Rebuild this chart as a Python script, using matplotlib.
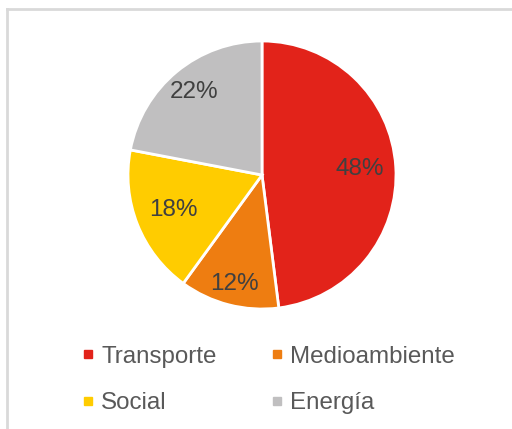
import matplotlib
matplotlib.use("Agg")
import matplotlib.pyplot as plt
from matplotlib.lines import Line2D
import numpy as np

plt.rcParams['font.family'] = ['Liberation Sans', 'DejaVu Sans']

labels = ["Transporte", "Medioambiente", "Social", "Energía"]
values = [48, 12, 18, 22]
colors = ["#E2231A", "#EE7D11", "#FFCC00", "#C0BFC0"]
# radial position of each percentage label (fraction of radius), like Excel's best fit
label_dist = [0.73, 0.84, 0.71, 0.80]

W, H = 512, 429
fig = plt.figure(figsize=(W / 100, H / 100), dpi=100)

# light frame (only top and left visible in the crop)
fig.add_artist(Line2D([7 / W, 7 / W], [0, 1 - 9 / H], transform=fig.transFigure,
                      color="#D9D9D9", lw=2))
fig.add_artist(Line2D([7 / W, 1], [1 - 9 / H, 1 - 9 / H], transform=fig.transFigure,
                      color="#D9D9D9", lw=2))

cx, cy, r = 262, 175, 134
ax = fig.add_axes([(cx - r) / W, 1 - (cy + r) / H, 2 * r / W, 2 * r / H])
wedges, texts, autotexts = ax.pie(
    values, colors=colors, startangle=90, counterclock=False,
    autopct=lambda p: f"{p:.0f}%", pctdistance=0.75,
    wedgeprops=dict(edgecolor="white", linewidth=2),
    textprops=dict(color="#404040", fontsize=17.5))
for w, t, d in zip(wedges, autotexts, label_dist):
    ang = np.deg2rad((w.theta1 + w.theta2) / 2)
    t.set_position((d * np.cos(ang), d * np.sin(ang)))
ax.set_xlim(-1, 1)
ax.set_ylim(-1, 1)
ax.set_aspect("equal")
ax.axis("off")

handles = [Line2D([], [], marker="s", linestyle="", markersize=5.5,
                  markerfacecolor=c, markeredgecolor=c) for c in colors]
# legend fills row by row in the reference: reorder for matplotlib's column order
order = [0, 2, 1, 3]
fig.legend([handles[i] for i in order], [labels[i] for i in order], ncol=2,
           loc="center", bbox_to_anchor=(268 / W, 1 - 380 / H),
           frameon=False, fontsize=17.4, labelcolor="#595959",
           handlelength=0.6, handletextpad=0.25, columnspacing=2.2,
           labelspacing=1.0)

fig.savefig("out.png", dpi=100)
